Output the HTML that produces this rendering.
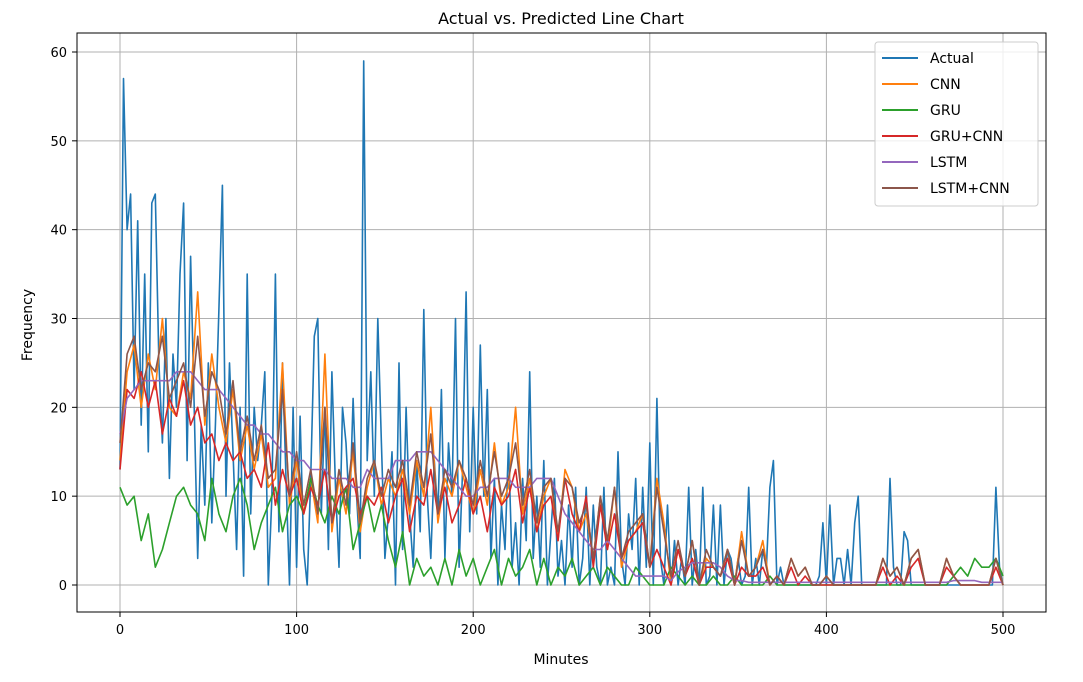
<!DOCTYPE html>
<html><head><meta charset="utf-8"><style>
body{margin:0;background:#fff;}
svg text{font-family:"DejaVu Sans","Liberation Sans",sans-serif;fill:#000;}
</style></head><body>
<svg id="chart" width="1083" height="677">
<rect x="0" y="0" width="1083" height="677" fill="#fff"/>
<g id="grid"></g>
<g id="series"></g>
<rect x="77" y="33" width="969" height="579" fill="none" stroke="#000" stroke-width="1"/>
<g id="axes"></g>
<text x="561" y="24" font-size="16" text-anchor="middle">Actual vs. Predicted Line Chart</text>
<text x="561" y="664" font-size="14" text-anchor="middle">Minutes</text>
<text x="32" y="325" font-size="14" text-anchor="middle" transform="rotate(-90 32 325)">Frequency</text>
<g id="legend"></g>
</svg>
<script>
const xTicks=[0,100,200,300,400,500];
const yTicks=[0,10,20,30,40,50,60];
const seriesNames=["Actual","CNN","GRU","GRU+CNN","LSTM","LSTM+CNN"];
const seriesColors=["#1f77b4","#ff7f0e","#2ca02c","#d62728","#9467bd","#8c564b"];
const actual=[13,57,40,44,22,41,18,35,15,43,44,
25,16,30,12,26,20,35,43,14,37,
20,3,18,9,25,7,18,31,45,10,
25,15,4,20,1,35,8,20,14,18,
24,0,10,35,6,25,12,0,20,2,
19,4,0,12,28,30,8,20,4,24,
11,2,20,16,8,21,10,3,59,14,
24,10,30,16,3,8,15,0,25,4,
20,8,2,14,6,31,10,3,14,8,
22,3,16,10,30,2,13,33,6,20,
8,27,10,22,3,12,0,9,4,16,
2,7,0,12,5,24,3,10,2,14,
0,6,12,1,5,0,9,2,11,0,
3,11,0,9,2,0,11,0,2,0,
15,3,0,8,4,12,0,11,2,16,
0,21,3,0,9,0,5,0,3,0,
11,0,4,0,11,0,1,9,0,9,
0,4,3,0,3,0,1,11,0,3,
0,4,2,11,14,0,2,0,0,0,
0,0,0,0,0,0,0,1,7,0,
9,0,3,3,0,4,0,7,10,0,
0,0,0,0,0,0,0,12,2,0,
0,6,5,0,0,0,0,0,0,0,
0,0,0,0,0,0,0,0,0,0,
0,0,0,0,0,0,0,11,2,0];
const cnn=[14,24,27,20,26,22,30,20,19,24,21,33,18,26,20,16,22,14,18,13,17,11,12,25,9,14,8,12,7,26,6,12,8,15,6,11,14,9,12,10,13,8,14,10,20,7,12,10,14,11,8,13,9,16,9,11,20,8,12,6,10,12,5,13,11,6,8,3,10,4,11,2,5,6,8,2,12,7,0,4,1,5,0,3,2,1,4,0,6,1,2,5,0,1,0,3,1,2,0,0,1,0,0,0,0,0,0,0,3,1,2,0,3,4,0,0,0,3,1,0,0,0,0,0,3,0];
const gru=[11,9,10,5,8,2,4,7,10,11,9,8,5,12,8,6,10,12,9,4,7,9,11,6,9,10,8,12,9,7,10,8,11,4,7,10,6,9,5,2,6,0,3,1,2,0,3,0,4,1,3,0,2,4,0,3,1,2,4,0,3,0,2,1,3,0,1,2,0,2,1,0,0,2,1,0,0,0,2,1,0,1,0,0,1,0,0,1,0,0,0,0,1,0,0,0,0,0,0,0,0,0,0,0,0,0,0,0,0,0,0,0,0,0,0,0,0,0,1,2,1,3,2,2,3,1];
const grucnn=[13,22,21,24,20,23,17,21,19,23,18,20,16,17,14,16,14,15,12,13,11,16,9,13,10,12,8,11,9,13,7,10,11,12,8,10,9,11,7,10,12,6,10,9,13,8,11,7,9,12,8,10,6,11,9,10,13,7,11,6,9,10,5,12,8,6,10,2,9,4,8,3,5,6,7,2,4,2,0,4,1,3,0,2,2,1,3,0,2,1,1,2,0,1,0,2,0,1,0,0,0,0,0,0,0,0,0,0,2,0,1,0,2,3,0,0,0,2,1,0,0,0,0,0,2,0];
const lstm=[17,21,22,23,23,23,23,23,24,24,24,23,22,22,22,21,20,19,18,18,17,17,16,15,15,14,14,13,13,13,12,12,12,11,11,13,12,12,12,14,14,14,15,15,15,14,13,12,11,10,10,11,11,12,12,12,11,11,11,12,12,12,10,8,7,6,5,4,4,5,4,3,2,1,1,1,1,1,0.5,1.5,2,2.5,2.5,2.5,2.5,2,1,0.5,0.5,0.3,0.3,0.3,0.3,0.3,0.3,0.3,0.3,0.3,0.3,0.3,0.3,0.3,0.3,0.3,0.3,0.3,0.3,0.3,0.3,0.3,0.3,0.3,0.3,0.3,0.3,0.3,0.3,0.3,0.5,0.5,0.5,0.5,0.3,0.3,0.3,0.3];
const lstmcnn=[16,26,28,22,25,24,28,21,23,25,20,28,19,24,22,17,23,15,19,14,18,12,13,22,10,15,9,13,8,20,7,13,9,16,7,12,14,10,13,11,14,9,15,11,17,8,13,11,14,12,9,14,10,15,10,12,16,9,13,7,11,12,6,12,11,7,9,3,10,5,11,3,6,7,8,2,11,6,1,5,1,5,0,4,2,1,4,0,5,1,2,4,0,1,0,3,1,2,0,0,1,0,0,0,0,0,0,0,3,1,2,0,3,4,0,0,0,3,1,0,0,0,0,0,3,0];
const allSeries=[actual,cnn,gru,grucnn,lstm,lstmcnn];
const NS="http://www.w3.org/2000/svg";
function xs(v){return 120+v*(1003-120)/500;}
function ys(v){return 585-v*(585-52)/60;}
function mk(tag,attrs,parent){const e=document.createElementNS(NS,tag);for(const k in attrs)e.setAttribute(k,attrs[k]);parent.appendChild(e);return e;}
const grid=document.getElementById('grid'),axes=document.getElementById('axes'),sg=document.getElementById('series'),lg=document.getElementById('legend');
xTicks.forEach(t=>{const x=xs(t);
const g=mk('line',{x1:x,x2:x,y1:33,y2:612,stroke:'#b0b0b0','stroke-width':1},grid);


mk('line',{x1:x,x2:x,y1:612,y2:617,stroke:'#000'},axes);
const tx=mk('text',{x:x,y:634,'font-size':13,'text-anchor':'middle'},axes);tx.textContent=t;

});
yTicks.forEach(t=>{const y=ys(t);
const g=mk('line',{x1:77,x2:1046,y1:y,y2:y,stroke:'#b0b0b0','stroke-width':1},grid);


mk('line',{x1:72,x2:77,y1:y,y2:y,stroke:'#000'},axes);
const tx=mk('text',{x:67,y:y+5,'font-size':13,'text-anchor':'end'},axes);tx.textContent=t;

});
allSeries.forEach((arr,si)=>{const n=arr.length;let d='';
arr.forEach((v,i)=>{d+=(i?'L':'M')+xs(i*500/(n-1)).toFixed(1)+','+ys(v).toFixed(1);});
const p=mk('path',{d:d,fill:'none',stroke:seriesColors[si],'stroke-width':1.6,'stroke-linejoin':'round'},sg);

});
mk('rect',{x:875,y:42,width:163,height:164,rx:3,fill:'#fff','fill-opacity':0.8,stroke:'#ccc'},lg);
seriesNames.forEach((nm,i)=>{const y=58+i*26;
mk('line',{x1:882,x2:918,y1:y,y2:y,stroke:seriesColors[i],'stroke-width':2},lg);
const t=mk('text',{x:930,y:y+5,'font-size':14},lg);t.textContent=nm;

});
</script>
</body></html>
